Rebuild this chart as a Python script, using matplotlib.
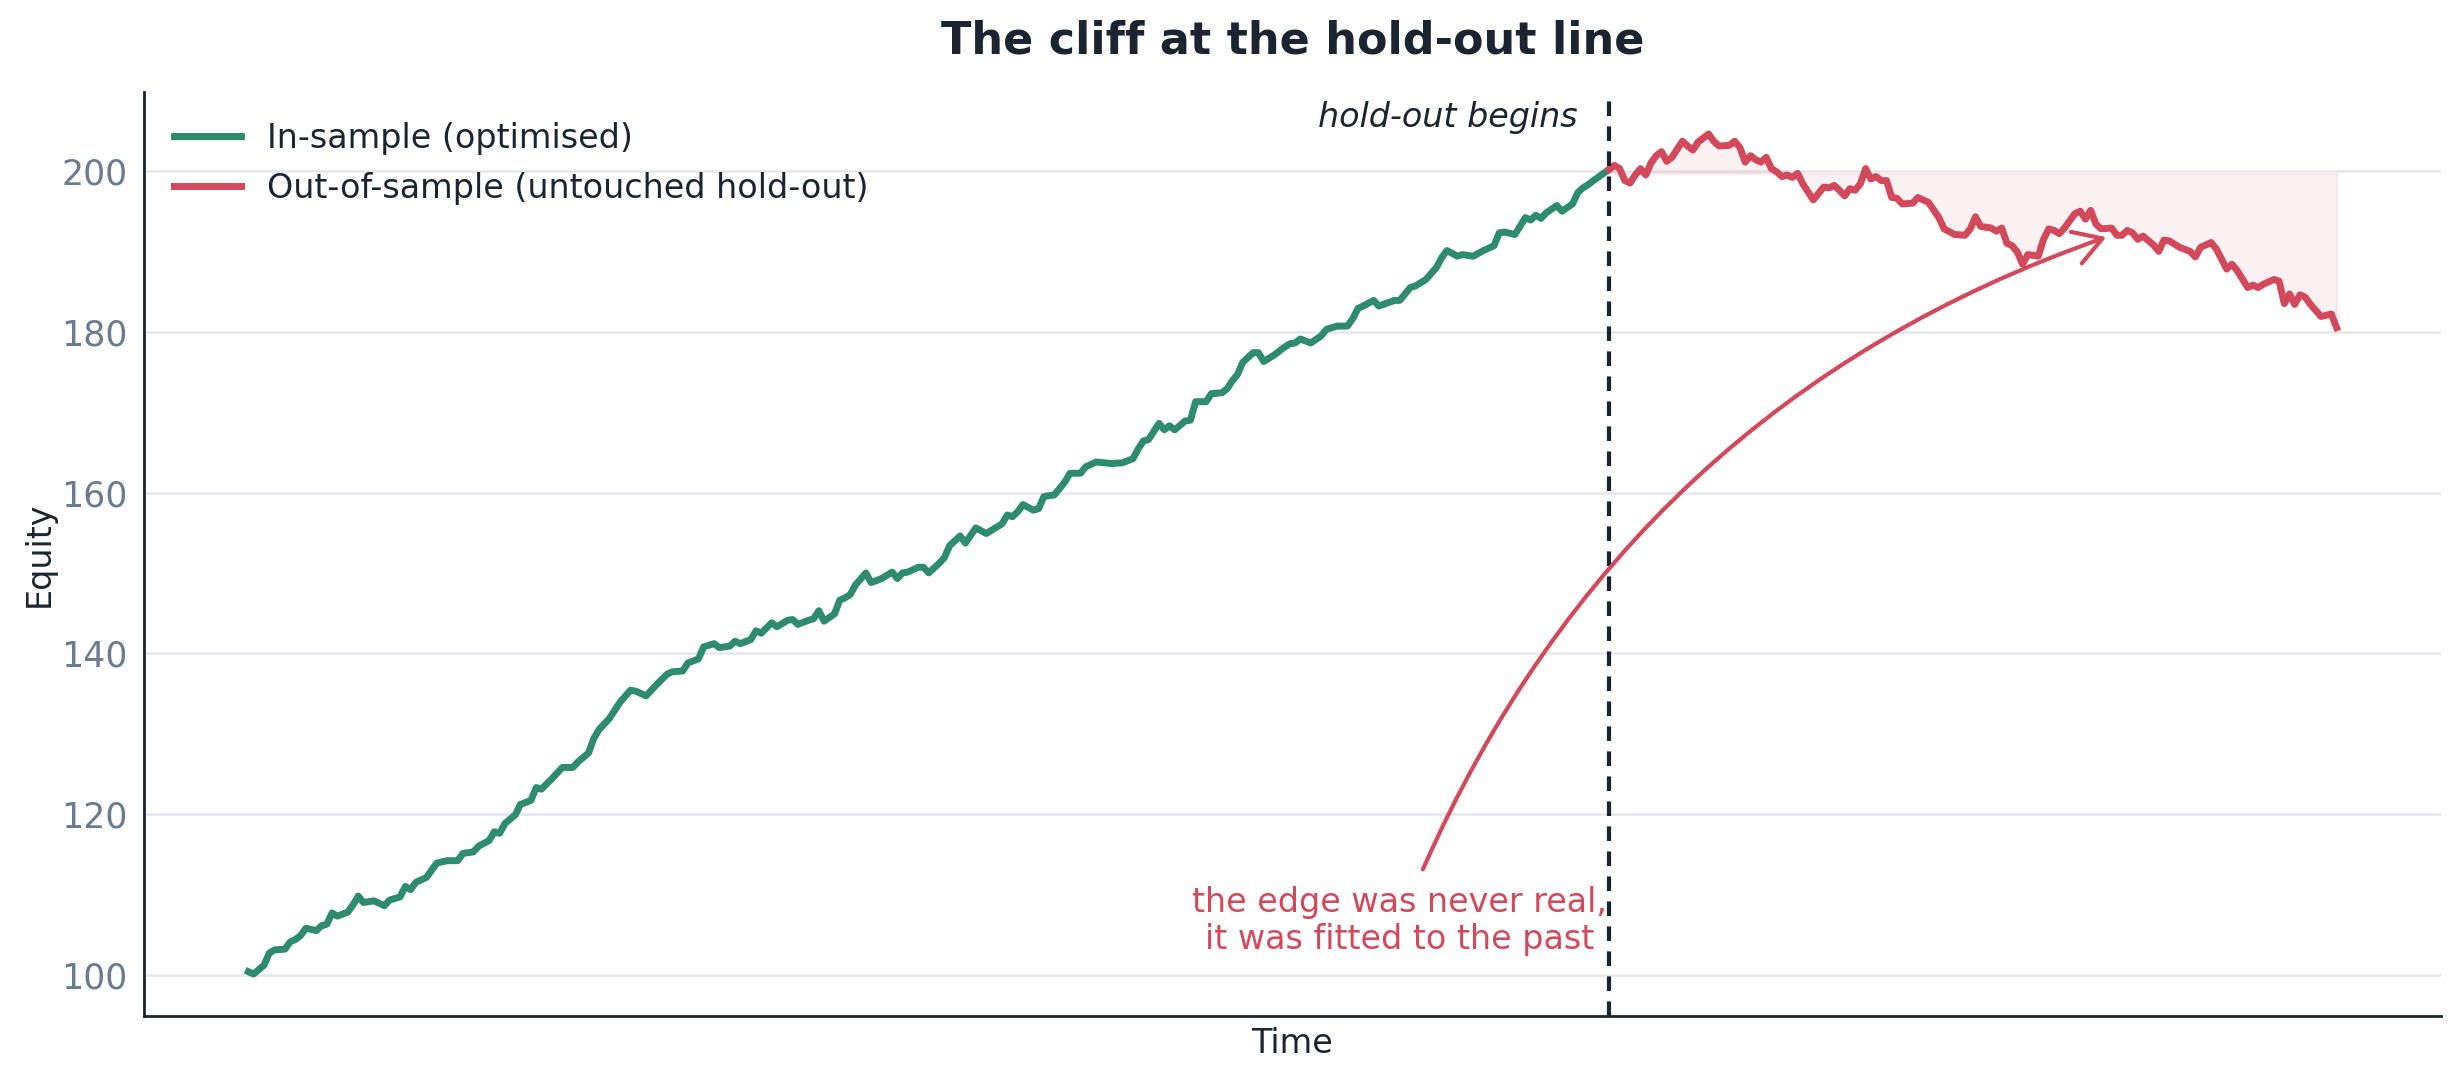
import numpy as np
import matplotlib.pyplot as plt

# equity curve (day, value)
in_days = [0, 1, 3, 4, 5, 7, 8, 9, 10, 11, 13, 14, 15, 16, 17, 19, 20, 21, 22, 24,
           26, 27, 29, 30, 31, 32, 34, 35, 36, 38, 40, 41, 43, 44, 46, 47, 48, 49, 51, 52,
           54, 55, 56, 58, 60, 62, 63, 65, 66, 67, 69, 70, 71, 73, 74, 76, 77, 78, 80, 81,
           83, 84, 86, 87, 89, 90, 92, 93, 94, 96, 97, 98, 100, 101, 103, 104, 105, 107, 108, 109,
           110, 112, 113, 114, 115, 116, 118, 119, 121, 123, 124, 125, 126, 128, 129, 130, 132, 133, 134, 136,
           137, 139, 141, 143, 144, 145, 146, 147, 148, 150, 151, 152, 154, 155, 156, 157, 159, 160, 162, 165,
           167, 169, 170, 171, 172, 174, 175, 176, 177, 179, 180, 181, 183, 184, 186, 187, 188, 189, 190, 192,
           193, 194, 196, 198, 199, 200, 201, 203, 205, 206, 208, 210, 211, 212, 213, 215, 216, 219, 220, 221,
           222, 223, 225, 227, 228, 229, 231, 232, 234, 236, 238, 239, 240, 242, 244, 245, 246, 247, 248, 250,
           251, 253, 254, 255, 256, 257, 260]
in_equity = [100.4, 100.1, 101.2, 102.7, 103.1, 103.2, 104.1, 104.4, 104.9, 105.8, 105.5, 106.1, 106.3, 107.7, 107.3, 107.8, 108.7, 109.8, 109.0, 109.2,
             108.6, 109.3, 109.7, 111.0, 110.6, 111.5, 112.1, 113.0, 113.9, 114.2, 114.2, 115.1, 115.3, 116.0, 116.7, 117.8, 117.6, 118.8, 119.9, 121.2,
             121.7, 123.3, 123.1, 124.4, 125.8, 125.8, 126.5, 127.6, 129.4, 130.5, 131.9, 132.9, 133.9, 135.4, 135.3, 134.7, 135.4, 136.1, 137.4, 137.7,
             137.8, 138.8, 139.3, 140.8, 141.2, 140.7, 140.9, 141.5, 141.2, 141.7, 142.8, 142.5, 143.8, 143.3, 144.1, 144.2, 143.6, 144.1, 144.3, 145.3,
             144.0, 144.9, 146.6, 146.9, 147.3, 148.5, 150.0, 148.8, 149.3, 150.1, 149.3, 150.0, 150.1, 150.7, 150.7, 150.0, 151.2, 151.9, 153.4, 154.6,
             153.7, 155.6, 154.9, 155.7, 156.1, 157.2, 157.0, 157.6, 158.5, 157.8, 158.0, 159.5, 159.7, 160.5, 161.3, 162.4, 162.4, 163.2, 163.8, 163.6,
             163.7, 164.2, 165.4, 166.4, 166.6, 168.6, 167.8, 168.3, 167.8, 168.9, 169.0, 171.3, 171.3, 172.3, 172.4, 172.9, 173.9, 174.7, 176.2, 177.4,
             177.4, 176.3, 177.1, 178.1, 178.5, 178.6, 179.1, 178.6, 179.5, 180.3, 180.7, 180.7, 181.6, 182.9, 183.2, 183.9, 183.2, 183.9, 183.9, 184.7,
             185.5, 185.7, 186.5, 188.0, 189.2, 190.1, 189.4, 189.6, 189.4, 190.1, 190.7, 192.3, 192.4, 192.1, 194.2, 193.9, 194.5, 194.1, 194.8, 195.7,
             195.0, 195.9, 197.3, 197.9, 198.3, 198.8, 200.2]

out_days = [260, 261, 262, 263, 264, 265, 266, 267, 268, 269, 270, 271, 272, 274, 275, 276, 277, 279, 280, 281,
            283, 284, 285, 286, 287, 288, 289, 290, 291, 292, 293, 294, 295, 296, 297, 298, 299, 300, 301, 302,
            303, 304, 305, 306, 307, 308, 309, 310, 311, 312, 313, 314, 315, 316, 318, 319, 320, 321, 323, 324,
            326, 328, 329, 330, 331, 333, 334, 335, 336, 337, 338, 339, 340, 342, 343, 344, 345, 346, 347, 349,
            350, 351, 352, 353, 354, 356, 357, 358, 359, 360, 361, 362, 364, 365, 366, 367, 369, 371, 372, 373,
            375, 376, 378, 379, 380, 382, 383, 384, 385, 387, 388, 389, 390, 391, 392, 393, 394, 396, 398, 399]
out_equity = [200.2, 200.7, 200.3, 198.8, 198.5, 199.5, 200.3, 199.5, 201.0, 201.9, 202.4, 201.2, 201.7, 203.7, 203.1, 202.6, 203.6, 204.6, 203.7, 203.1,
              203.2, 203.7, 202.9, 201.1, 201.9, 201.4, 201.1, 201.7, 200.3, 199.9, 199.3, 199.5, 199.2, 199.7, 198.4, 197.4, 196.4, 197.2, 198.0, 197.9,
              198.2, 197.6, 196.9, 197.8, 197.6, 198.4, 200.3, 199.0, 199.3, 198.8, 198.8, 196.7, 196.6, 195.9, 196.0, 196.7, 196.4, 196.1, 194.2, 192.8,
              192.1, 192.0, 192.8, 194.3, 193.1, 192.9, 192.5, 192.9, 191.0, 190.7, 189.9, 188.4, 189.6, 189.4, 191.5, 192.8, 192.6, 192.2, 192.9, 194.7,
              195.0, 194.0, 195.1, 193.4, 192.8, 192.9, 192.0, 192.0, 192.6, 192.3, 191.5, 191.9, 190.8, 190.0, 191.4, 191.3, 190.5, 190.0, 189.3, 190.5,
              191.1, 190.3, 187.8, 188.4, 187.6, 185.5, 185.8, 185.5, 185.9, 186.5, 186.3, 183.5, 184.7, 183.4, 184.6, 184.3, 183.4, 181.9, 182.2, 180.5]

split_day = 260
holdout_level = 199.7

GREEN = '#2e8b6e'
RED = '#d1495b'
INK = '#1b2430'
MUTED = '#6b7a90'
GRID = '#e5e7eb'

fig = plt.figure(figsize=(12.3, 5.405), dpi=200)
ax = fig.add_axes([0.0585, 0.0601, 0.9338, 0.8548])

ax.grid(axis='y', color=GRID, lw=0.9)
ax.set_axisbelow(True)

ax.fill_between(out_days, out_equity, holdout_level, color=RED, alpha=0.08, lw=0.8)
ax.plot(in_days, in_equity, color=GREEN, lw=2.5, label='In-sample (optimised)')
ax.plot(out_days, out_equity, color=RED, lw=2.5, label='Out-of-sample (untouched hold-out)')
ax.axvline(split_day, color=INK, lw=1.5, ls=(0, (3.5, 2.5)))

ax.text(split_day - 6, 206.7, 'hold-out begins', ha='right', va='center',
        fontsize=12, style='italic', color=INK)

ax.text(220, 106.7, 'the edge was never real,\nit was fitted to the past',
        ha='center', va='center', fontsize=12, color=RED, linespacing=1.15)
ax.annotate('', xy=(356, 192.0), xytext=(224, 112.5),
            arrowprops=dict(arrowstyle='->,head_length=0.5,head_width=0.3',
                            color=RED, lw=1.5, mutation_scale=20,
                            connectionstyle='arc3,rad=-0.22'))

ax.set_yticks([100, 120, 140, 160, 180, 200])
ax.set_xticks([])
ax.tick_params(axis='y', length=0, pad=6, labelsize=12.5, labelcolor=MUTED)
for side in ['top', 'right']:
    ax.spines[side].set_visible(False)
for side in ['left', 'bottom']:
    ax.spines[side].set_color(INK)
    ax.spines[side].set_linewidth(1.0)

ax.set_xlabel('Time', fontsize=12, color=INK)
ax.set_ylabel('Equity', fontsize=12, color=INK, labelpad=2)
ax.set_title('The cliff at the hold-out line', fontsize=16, fontweight='bold',
             color=INK, pad=14)
ax.legend(loc='upper left', frameon=False, fontsize=12, labelcolor=INK)

fig.savefig('out.png', dpi=200)
